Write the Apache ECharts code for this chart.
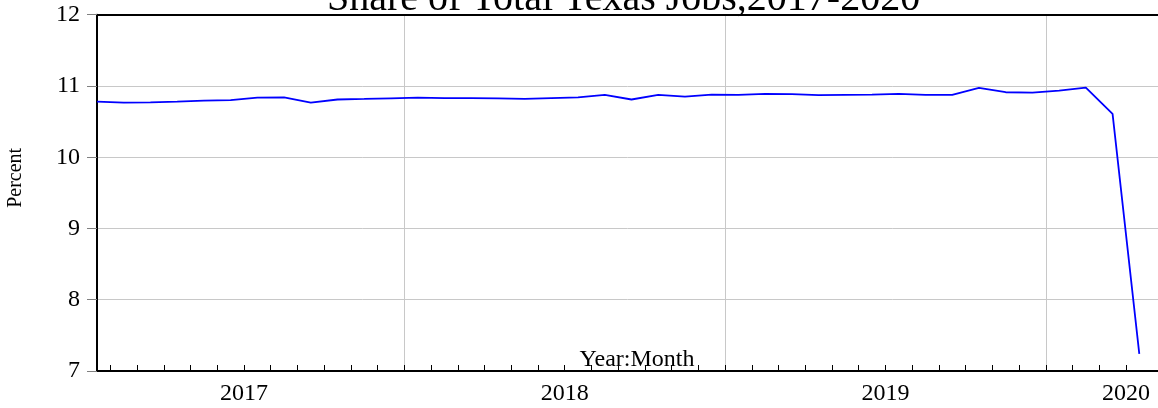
<!DOCTYPE html>
<html>
<head>
<meta charset="utf-8">
<script src="https://cdn.jsdelivr.net/npm/echarts@6/dist/echarts.min.js"></script>
<style>
html,body{margin:0;padding:0;background:#fff;}
#chart{width:1158px;height:408px;}
</style>
</head>
<body>
<div id="chart"></div>
<script>
// Months (one point per month)
const months = [
  '2017-01','2017-02','2017-03','2017-04','2017-05','2017-06','2017-07','2017-08','2017-09','2017-10','2017-11','2017-12',
  '2018-01','2018-02','2018-03','2018-04','2018-05','2018-06','2018-07','2018-08','2018-09','2018-10','2018-11','2018-12',
  '2019-01','2019-02','2019-03','2019-04','2019-05','2019-06','2019-07','2019-08','2019-09','2019-10','2019-11','2019-12',
  '2020-01','2020-02','2020-03','2020-04'
];
// Share of total Texas jobs (percent)
const shareValues = [
  10.78, 10.766, 10.77, 10.78, 10.794, 10.80, 10.836, 10.84, 10.766, 10.81, 10.818, 10.827,
  10.836, 10.83, 10.83, 10.827, 10.82, 10.83, 10.84, 10.874, 10.81, 10.874, 10.85, 10.878,
  10.874, 10.888, 10.885, 10.87, 10.874, 10.878, 10.888, 10.874, 10.874, 10.972, 10.912, 10.906,
  10.935, 10.976, 10.607, 7.24
];
// Year tick labels
const yearLabels = ['2017', '2018', '2019', '2020'];
const yTicks = [7, 8, 9, 10, 11, 12];

const FONT = '"Liberation Serif", "Times New Roman", serif';

const seriesData = months.map((m, i) => [i, shareValues[i]]);
// month boundaries (between points)
const monthBoundaries = months.slice(1).map((m, i) => i + 0.5);
// year boundaries
const yearBoundaries = [];
months.forEach((m, i) => { if (i > 0 && m.endsWith('-01')) yearBoundaries.push(i - 0.5); });
// label positions: centre of each year (last one clamped inside the plot)
const yearLabelPos = [5.5, 17.5, 29.5, 38.5];
const xMax = 39.70;

const chart = echarts.init(document.getElementById('chart'), null, {renderer: 'canvas'});
chart.setOption({
  animation: false,
  backgroundColor: '#fff',
  title: {
    text: 'Share of Total Texas Jobs,2017-2020',
    left: 327,
    top: -21,
    padding: 0,
    textStyle: {fontFamily: FONT, fontSize: 40, fontWeight: 'normal', color: '#000'}
  },
  grid: {left: 97, right: 0, top: 14.7, bottom: 37, containLabel: false, outerBoundsMode: 'none'},
  xAxis: [{
    type: 'value',
    min: 0,
    max: xMax,
    position: 'bottom',
    name: 'Year:Month',
    nameLocation: 'middle',
    nameGap: -23,
    nameMoveOverlap: false,
    nameTextStyle: {fontFamily: FONT, fontSize: 24, color: '#000', padding: [0, 0, 0, 19]},
    axisLine: {show: true, onZero: false, lineStyle: {color: '#000', width: 2}},
    axisTick: {show: true, inside: true, length: 6, customValues: monthBoundaries, lineStyle: {color: '#000', width: 1}},
    axisLabel: {
      show: true, margin: 11, customValues: yearLabelPos,
      fontFamily: FONT, fontSize: 24, color: '#000',
      formatter: function (v) {
        const idx = yearLabelPos.indexOf(v);
        return idx >= 0 ? yearLabels[idx] : '';
      }
    },
    splitLine: {show: false}
  }, {
    type: 'value',
    min: 0,
    max: xMax,
    position: 'bottom',
    axisLine: {show: false},
    axisTick: {show: false, customValues: yearBoundaries},
    axisLabel: {show: false, customValues: yearBoundaries},
    splitLine: {show: true, lineStyle: {color: '#c8c8c8', width: 1}}
  }, {
    type: 'value',
    min: 0,
    max: xMax,
    position: 'top',
    axisLine: {show: true, onZero: false, lineStyle: {color: '#000', width: 2}},
    axisTick: {show: false},
    axisLabel: {show: false},
    splitLine: {show: false}
  }],
  yAxis: {
    type: 'value',
    min: yTicks[0],
    max: yTicks[yTicks.length - 1],
    interval: 1,
    name: 'Percent',
    nameLocation: 'middle',
    nameRotate: 90,
    nameGap: 71,
    nameMoveOverlap: false,
    nameTextStyle: {fontFamily: FONT, fontSize: 20, color: '#000', padding: [0, 0, 0, 30]},
    axisLine: {show: true, onZero: false, lineStyle: {color: '#000', width: 2}},
    axisTick: {show: true, inside: false, length: 10, lineStyle: {color: '#808080', width: 1}},
    axisLabel: {show: true, margin: 17, fontFamily: FONT, fontSize: 24, color: '#000'},
    splitLine: {show: true, lineStyle: {color: '#c8c8c8', width: 1}}
  },
  series: [{
    type: 'line',
    xAxisIndex: 0,
    data: seriesData,
    showSymbol: false,
    symbol: 'none',
    lineStyle: {color: '#0000ff', width: 1.8},
    z: 5
  }]
});
</script>
</body>
</html>
